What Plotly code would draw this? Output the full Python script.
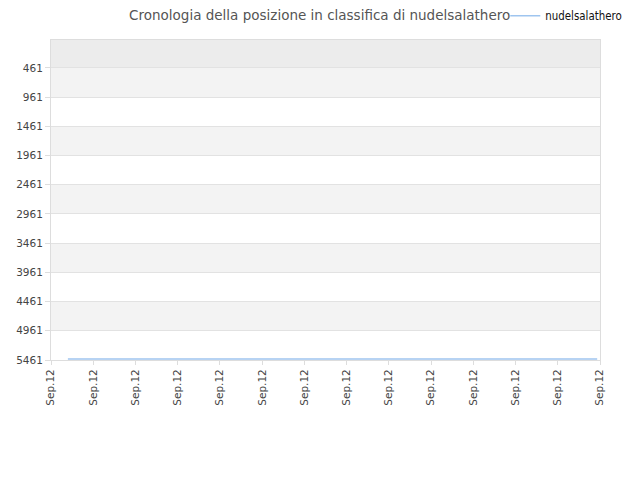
import plotly.graph_objects as go

# Data
times = ["2012-09-12 00:24", "2012-09-12 12:56"]
ranks = [5445, 5445]
tick_times = ["2012-09-12 %02d:00" % h for h in range(14)]
tick_labels = ["Sep.12"] * 14
y_ticks = [461, 961, 1461, 1961, 2461, 2961, 3461, 3961, 4461, 4961, 5461]
player = "nudelsalathero"

fig = go.Figure()

# alternating bands
shapes = [dict(type="rect", xref="paper", yref="y", x0=0, x1=1, y0=-17, y1=461,
               fillcolor="#ececec", line_width=0, layer="below")]
for i in range(0, len(y_ticks) - 1, 2):
    shapes.append(dict(type="rect", xref="paper", yref="y", x0=0, x1=1,
                       y0=y_ticks[i], y1=y_ticks[i + 1],
                       fillcolor="#f3f3f3", line_width=0, layer="below"))

fig.add_trace(go.Scatter(x=times, y=ranks, mode="lines", name=player,
                         line=dict(color="#9fc5ef", width=1.5)))

fig.update_layout(
    width=640, height=480,
    margin=dict(l=43, r=48, t=32, b=128),
    paper_bgcolor="white", plot_bgcolor="white",
    shapes=shapes,
    title=dict(text="Cronologia della posizione in classifica di nudelsalathero",
               x=0.487, xanchor="center", xref="container",
               y=0.984, yanchor="middle", yref="container",
               font=dict(family="DejaVu Sans", size=13.5, color="#555555")),
    showlegend=True,
    legend=dict(x=0.777, y=0.984, xanchor="left", yanchor="middle",
                xref="container", yref="container", orientation="h",
                font=dict(family="Liberation Sans Narrow, DejaVu Sans Condensed", size=11.4,
                          color="#111111"),
                bgcolor="rgba(0,0,0,0)"),
    xaxis=dict(range=["2012-09-12 00:00", "2012-09-12 13:00"],
               tickmode="array", tickvals=tick_times, ticktext=tick_labels,
               tickangle=-90, showgrid=False, zeroline=False, automargin=False,
               showline=True, linecolor="#dddddd", mirror=True,
               ticks="outside", ticklen=4, tickcolor="#dddddd",
               tickfont=dict(family="DejaVu Sans", size=10.5, color="#444444")),
    yaxis=dict(range=[5461, -17], tickmode="array", tickvals=y_ticks,
               showgrid=True, gridcolor="#e2e2e2", zeroline=False, automargin=False,
               showline=True, linecolor="#dddddd", mirror=True,
               ticks="outside", ticklen=5, tickcolor="#dddddd",
               tickfont=dict(family="DejaVu Sans", size=10.5, color="#444444")),
)

fig.write_html("out.html")
